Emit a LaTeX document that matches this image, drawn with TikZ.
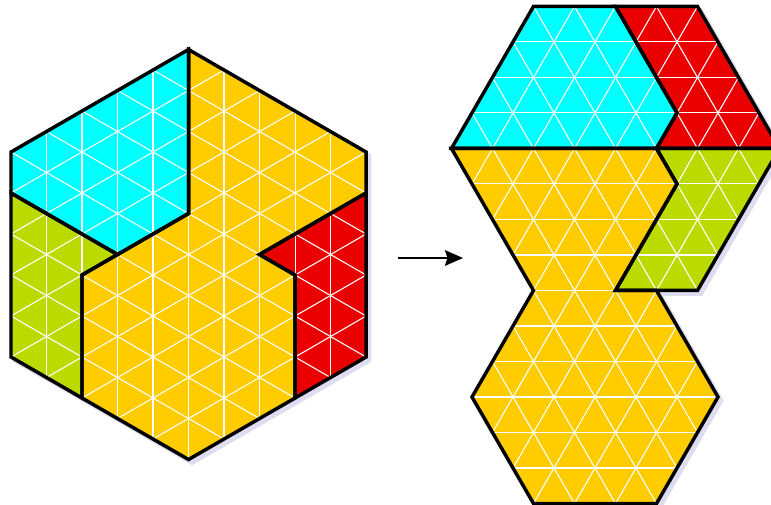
\documentclass[tikz,border=0pt]{standalone}
\usepackage{xcolor}
\usepackage{tikz}
\usetikzlibrary{arrows.meta, calc}
\definecolor{piececyan}{RGB}{0,255,255}
\definecolor{pieceyellow}{RGB}{255,204,0}
\definecolor{piecered}{RGB}{234,0,0}
\definecolor{piecegreen}{RGB}{186,218,0}
\definecolor{shadowlav}{RGB}{222,220,240}
% triangle lattices (pointy hexagon / flat hexagon)
\newcommand{\gridL}{%
  \foreach \k in {-5,...,5} \draw[gridline] ({\k*sqrt(3)/2},-5.5) -- ({\k*sqrt(3)/2},5.5);
  \foreach \c in {-8,...,8} {
    \draw[gridline] (-5,{\c-5/sqrt(3)}) -- (5,{\c+5/sqrt(3)});
    \draw[gridline] (-5,{\c+5/sqrt(3)}) -- (5,{\c-5/sqrt(3)});
  }}
\newcommand{\gridR}{%
  \foreach \n in {-3,...,11} \draw[gridline] (-4,{\n*sqrt(3)/2}) -- (5,{\n*sqrt(3)/2});
  \foreach \j in {-10,...,11} {
    \draw[gridline] ({\j-3/sqrt(3)},-3) -- ({\j+10/sqrt(3)},10);
    \draw[gridline] ({\j+3/sqrt(3)},-3) -- ({\j-10/sqrt(3)},10);
  }}
% pieces before
\newcommand{\cyanL}{(-4.330,2.5) -- (0,5) -- (0,1) -- (-1.732,0) -- (-4.330,1.5) -- cycle}
\newcommand{\greenL}{(-4.330,1.5) -- (-1.732,0) -- (-2.598,-0.5) -- (-2.598,-3.5) -- (-4.330,-2.5) -- cycle}
\newcommand{\redL}{(4.330,1.5) -- (1.732,0) -- (2.598,-0.5) -- (2.598,-3.5) -- (4.330,-2.5) -- cycle}
\newcommand{\yellowL}{(0,5) -- (4.330,2.5) -- (4.330,1.5) -- (1.732,0) -- (2.598,-0.5) -- (2.598,-3.5) -- (0,-5) -- (-2.598,-3.5) -- (-2.598,-0.5) -- (-1.732,0) -- (0,1) -- cycle}
% pieces after
\newcommand{\cyanR}{(-3.5,6.062) -- (-1.5,9.526) -- (0.5,9.526) -- (2,6.928) -- (1.5,6.062) -- cycle}
\newcommand{\redR}{(0.5,9.526) -- (2.5,9.526) -- (4.5,6.062) -- (1.5,6.062) -- (2,6.928) -- cycle}
\newcommand{\greenR}{(1.5,6.062) -- (4.5,6.062) -- (2.5,2.598) -- (0.5,2.598) -- (2,5.196) -- cycle}
\newcommand{\yellowR}{(-3.5,6.062) -- (1.5,6.062) -- (2,5.196) -- (0.5,2.598) -- (1.5,2.598) -- (3,0) -- (1.5,-2.598) -- (-1.5,-2.598) -- (-3,0) -- (-1.5,2.598) -- cycle}

\begin{document}
\begin{tikzpicture}[x=1cm, y=1cm,
    gridline/.style={white, line width=0.75pt},
    outline/.style={black, line width=2.4pt},
    shadowfill/.style={fill=shadowlav, draw=shadowlav, line width=2.4pt}]
  \useasboundingbox (0,0) rectangle (18.805,12.293);
  % ============ hexagon, cut in four ============
  \begin{scope}[shift={(4.598,6.085)}]
    \begin{scope}[shift={(0.09,-0.09)}]
      \path[shadowfill] (0,5) -- (4.330,2.5) -- (4.330,-2.5) -- (0,-5) -- (-4.330,-2.5) -- (-4.330,2.5) -- cycle;
    \end{scope}
    \foreach \p/\col in {\cyanL/piececyan, \greenL/piecegreen, \redL/piecered, \yellowL/pieceyellow} {
      \begin{scope}
        \clip \p;
        \fill[\col] \p;
        \gridL
      \end{scope}
    }
    \foreach \p in {\cyanL, \greenL, \redL, \yellowL} \draw[outline] \p;
  \end{scope}
  % ============ arrow ============
  \coordinate (arrowfrom) at (9.707,6.0);
  \coordinate (arrowto) at (11.293,6.0);
  \draw[line width=1.6pt, -{Stealth[length=4.4mm, width=3.8mm, inset=0.6mm]}] (arrowfrom) -- (arrowto);
  % ============ pieces rearranged ============
  \begin{scope}[shift={(14.512,2.610)}]
    \begin{scope}[shift={(0.09,-0.09)}]
      \foreach \p in {\cyanR, \redR, \greenR, \yellowR} \path[shadowfill] \p;
    \end{scope}
    \foreach \p/\col in {\cyanR/piececyan, \redR/piecered, \greenR/piecegreen, \yellowR/pieceyellow} {
      \begin{scope}
        \clip \p;
        \fill[\col] \p;
        \gridR
      \end{scope}
    }
    \foreach \p in {\cyanR, \redR, \greenR, \yellowR} \draw[outline] \p;
  \end{scope}
\end{tikzpicture}
\end{document}
